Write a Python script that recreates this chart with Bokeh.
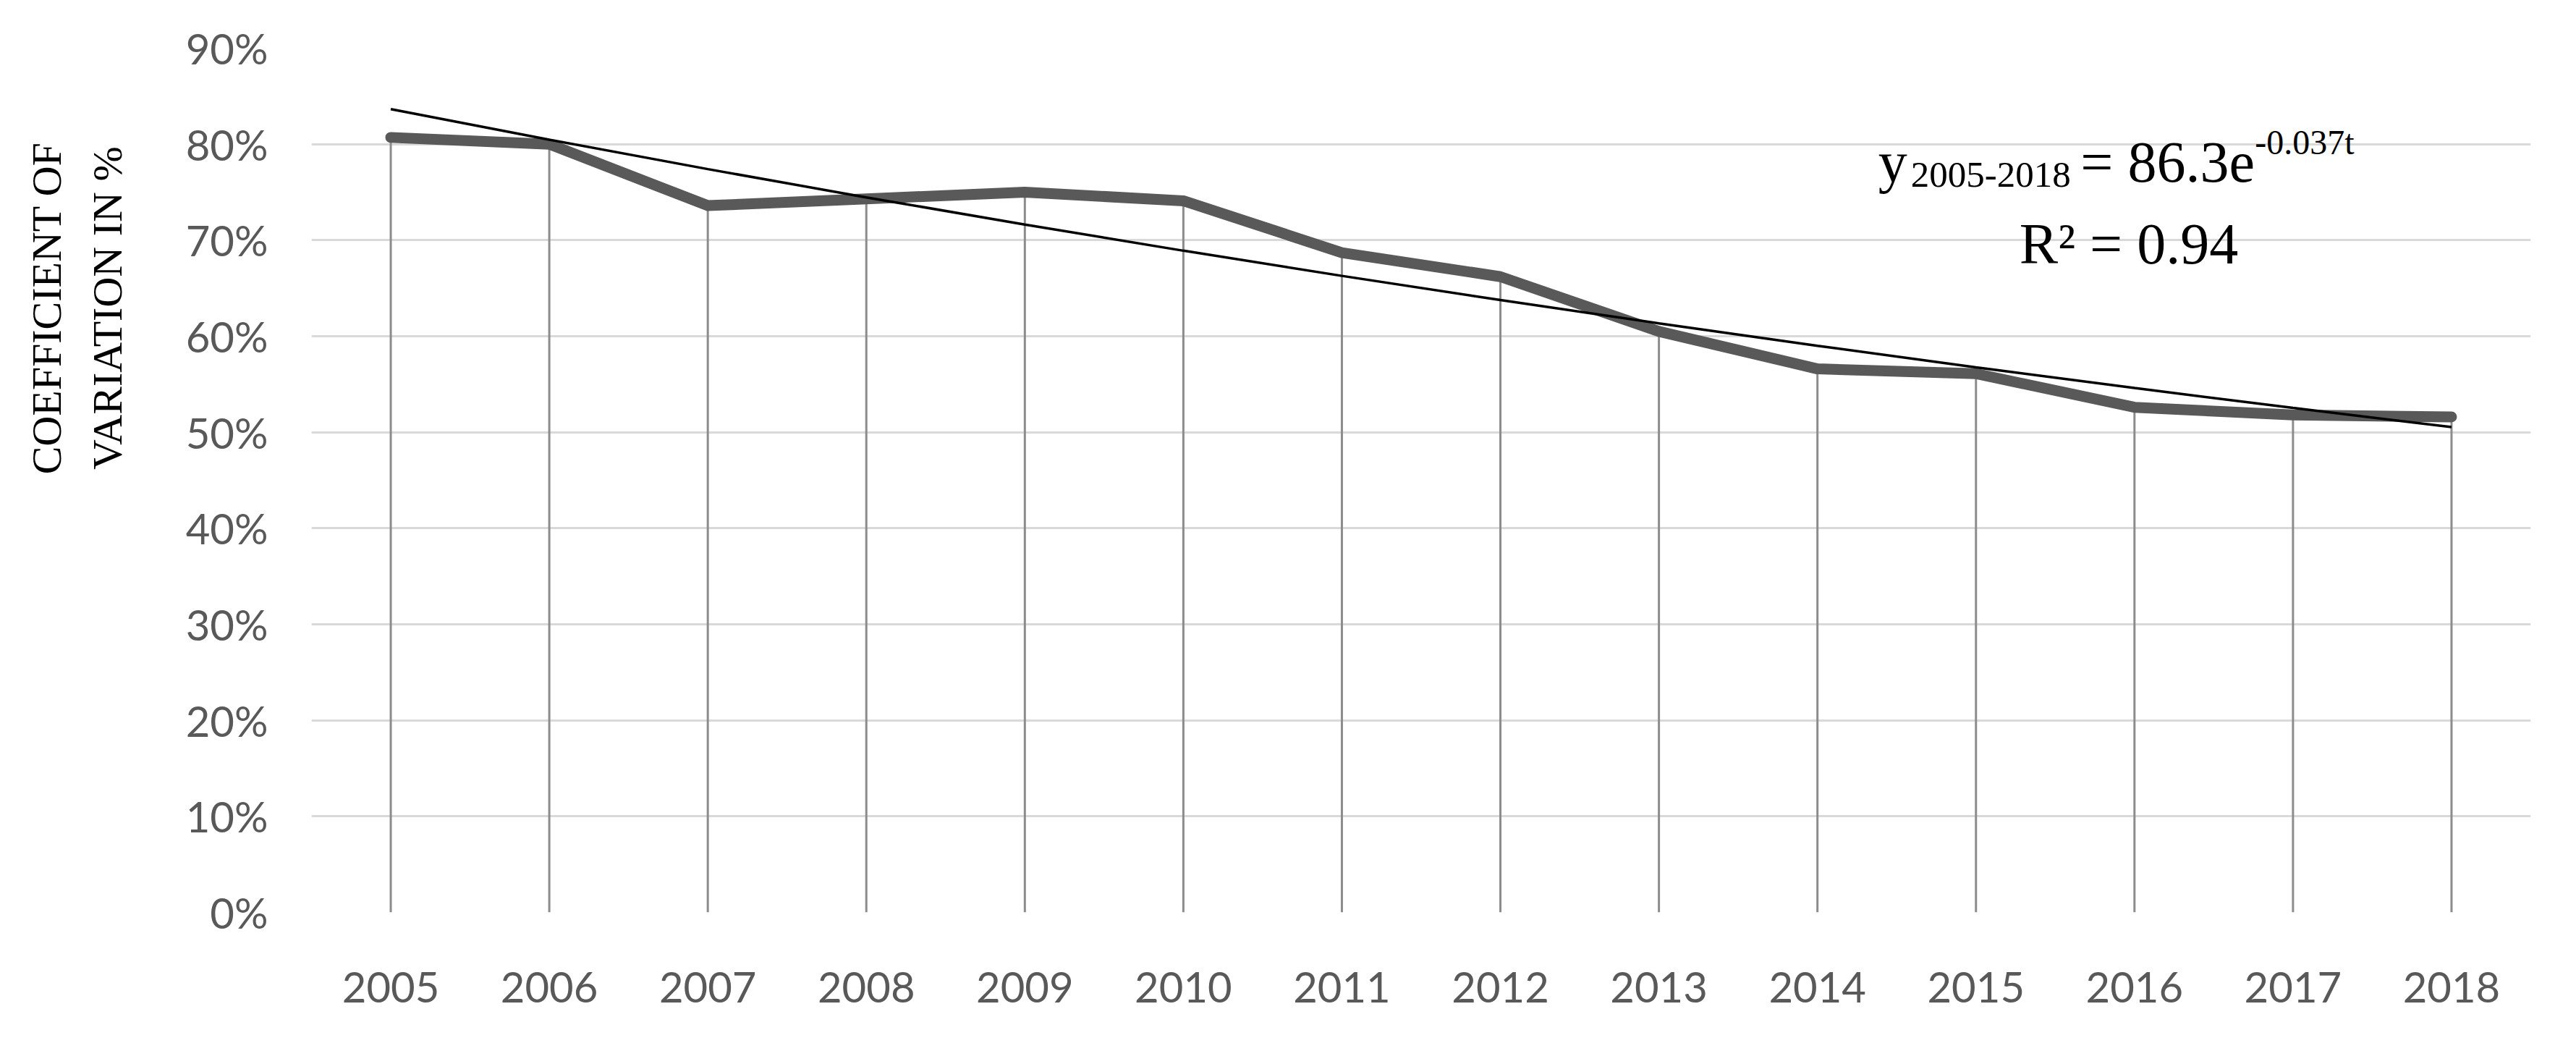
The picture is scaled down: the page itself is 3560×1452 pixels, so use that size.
import numpy as np
from bokeh.plotting import figure
from bokeh.layouts import row
from bokeh.models import FixedTicker, PrintfTickFormatter, Label, Range1d
from bokeh.embed import file_html
from bokeh.resources import INLINE

# ---- data ----
years = [2005, 2006, 2007, 2008, 2009, 2010, 2011, 2012, 2013, 2014, 2015, 2016, 2017, 2018]
cv_pct = [80.7, 80.0, 73.6, 74.3, 75.0, 74.1, 68.7, 66.2, 60.5, 56.6, 56.1, 52.6, 51.8, 51.6]
y_ticks = [0, 10, 20, 30, 40, 50, 60, 70, 80, 90]
y_title_lines = ["COEFFICIENT OF", "VARIATION IN %"]
eq_main = "y"
eq_sub = "2005-2018"
eq_mid = "= 86.3e"
eq_sup = "-0.037t"
eq_r2 = "R\u00b2 = 0.94"

# exponential trend fitted to the series (t = 1..n), as the chart's trendline
t = np.arange(1, len(years) + 1)
b_fit, ln_a_fit = np.polyfit(t, np.log(cv_pct), 1)
trend = list(np.exp(ln_a_fit) * np.exp(b_fit * t))

H = 1436
TW = 220  # width of the strip holding the rotated y-axis title

# ---- strip with the y-axis title ----
pt = figure(width=TW, height=H, output_backend="svg", toolbar_location=None,
            title=None, x_range=Range1d(0, TW), y_range=Range1d(0, H),
            min_border=0)
pt.axis.visible = False
pt.grid.visible = False
pt.outline_line_color = None
serif = "Liberation Serif"
title_x = [64, 148]
for txt, xx in zip(y_title_lines, title_x):
    pt.add_layout(Label(x=xx, y=1004, text=txt, angle=np.pi / 2,
                        text_align="center", text_baseline="middle",
                        text_font=serif, text_font_size="58px",
                        text_color="black"))

# ---- main chart ----
p = figure(width=3544 - TW, height=H, output_backend="svg", toolbar_location=None,
           title=None,
           x_range=Range1d(2004.5, 2018.5), y_range=Range1d(0, 90),
           min_border_left=430 - TW, min_border_right=47,
           min_border_top=66, min_border_bottom=176)
p.outline_line_color = None

p.xgrid.visible = False
p.ygrid.ticker = FixedTicker(ticks=y_ticks)
p.ygrid.grid_line_color = "#d9d9d9"
p.ygrid.grid_line_width = 3

tick_color = "#595959"
p.yaxis.ticker = FixedTicker(ticks=y_ticks)
p.yaxis.formatter = PrintfTickFormatter(format="%d%%")
p.xaxis.ticker = FixedTicker(ticks=years)
for ax in (p.xaxis[0], p.yaxis[0]):
    ax.axis_line_color = None
    ax.major_tick_line_color = None
    ax.minor_tick_line_color = None
    ax.major_tick_out = 0
    ax.major_tick_in = 0
    ax.minor_tick_out = 0
    ax.major_label_text_font = "Lato"
    ax.major_label_text_font_size = "58px"
    ax.major_label_text_color = tick_color
p.yaxis.major_label_standoff = 60
p.xaxis.major_label_standoff = 82

# drop lines
p.segment(x0=years, y0=0, x1=years, y1=cv_pct, line_color="#8c8c8c", line_width=3)
# main series
p.line(years, cv_pct, line_color="#595959", line_width=15,
       line_cap="round", line_join="round")
# trendline
p.line(years, trend, line_color="black", line_width=3.5)

# equation annotation
def lab(x, y, txt, size):
    p.add_layout(Label(x=x, y=y, text=txt, text_font=serif, text_font_size=size,
                       text_color="black", text_align="left",
                       text_baseline="alphabetic"))

lab(2014.384, 78.1, eq_main, "80px")
lab(2014.589, 76.8, eq_sub, "51px")
lab(2015.66, 78.1, eq_mid, "80px")
lab(2016.76, 80.2, eq_sup, "48px")
lab(2015.274, 69.6, eq_r2, "80px")

layout = row(pt, p, spacing=0)
open("out.html", "w").write(file_html(layout, INLINE))
